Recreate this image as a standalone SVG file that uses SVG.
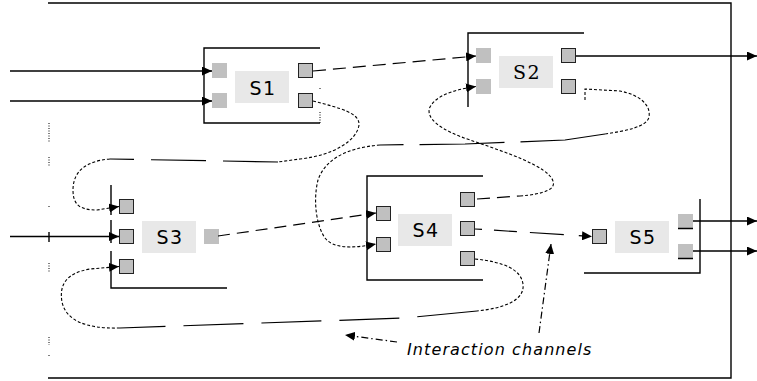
<svg xmlns="http://www.w3.org/2000/svg" width="757" height="381" viewBox="0 0 757 381">
  <defs>
    <marker id="arrow" viewBox="0 0 10 9" refX="10" refY="4.5" markerWidth="10" markerHeight="9" markerUnits="userSpaceOnUse" orient="auto">
      <path d="M0,0 L10,4.5 L0,9 z" fill="#000"/>
    </marker>
  </defs>
  <style>
    .frame{fill:none;stroke:#000;stroke-width:1.4}
    .edge{fill:none;stroke:#000;stroke-width:1.4}
    .dots{fill:none;stroke:#000;stroke-width:1;stroke-dasharray:1 1.5}
    .port{fill:#c0c0c0}
    .port.b{stroke:#222;stroke-width:1}
    .label{fill:#e8e8e8}
    .name{font-family:"DejaVu Sans",Verdana,sans-serif;font-size:19px;letter-spacing:1.5px;text-anchor:middle;fill:#000}
    .serif{font-family:"DejaVu Serif","Liberation Serif",serif}
    .wire{fill:none;stroke:#000;stroke-width:1.4}
    .dash{fill:none;stroke:#000;stroke-width:1.2;stroke-dasharray:13 7}
    .long{fill:none;stroke:#000;stroke-width:1.2;stroke-dasharray:55 17}
    .fine{fill:none;stroke:#000;stroke-width:1.1;stroke-dasharray:3 2}
    .dashdot{fill:none;stroke:#000;stroke-width:1.2;stroke-dasharray:7 3 1.5 3}
    .note{font-family:"DejaVu Sans",Verdana,sans-serif;font-size:16px;font-style:italic;letter-spacing:1.1px;fill:#000}
  </style>

  <!-- system boundary -->
  <g id="boundary">
    <path class="frame" d="M48,3 H731 V378 H48"/>
    <path class="dots" d="M49,123 V142 M49,157 V167 M49,206 V208 M49,263 V272 M49,337 V345 M49,355 V357"/>
    <path class="edge" d="M49,232 V242"/>
  </g>

  <!-- S1 -->
  <g id="s1">
    <path class="edge" d="M320,48 H204 V123 H320"/>
    <path class="dots" d="M320,88 V90 M320,112 V123"/>
    <rect class="port" x="212" y="63" width="15" height="15"/>
    <rect class="port" x="212" y="93" width="15" height="15"/>
    <rect class="port b" x="298.5" y="63.5" width="14" height="14"/>
    <rect class="port b" x="298.5" y="93.5" width="14" height="14"/>
    <rect class="label" x="235" y="71" width="54" height="32"/>
    <text class="name" x="263" y="95">S1</text>
  </g>

  <!-- S2 -->
  <g id="s2">
    <path class="edge" d="M584,33 H468 V107"/>
    <rect class="port" x="476" y="48" width="15" height="15"/>
    <rect class="port" x="476" y="79" width="15" height="15"/>
    <rect class="port b" x="561.5" y="48.5" width="14" height="14"/>
    <rect class="port b" x="561.5" y="79.5" width="14" height="14"/>
    <rect class="label" x="499" y="56" width="54" height="32"/>
    <text class="name serif" x="527" y="79">S2</text>
  </g>

  <!-- S3 -->
  <g id="s3">
    <path class="edge" d="M111,185 V215 M111,220 V243 M111,251 V288 H227"/>
    <rect class="port b" x="119.5" y="199.5" width="14" height="14"/>
    <rect class="port b" x="119.5" y="229.5" width="14" height="14"/>
    <rect class="port b" x="119.5" y="259.5" width="14" height="14"/>
    <rect class="label" x="142" y="221" width="54" height="32"/>
    <text class="name" x="170" y="244">S3</text>
    <rect class="port" x="204" y="229" width="15" height="15"/>
  </g>

  <!-- S4 -->
  <g id="s4">
    <path class="edge" d="M483,176 H367 V280 H483"/>
    <rect class="port b" x="376.5" y="206.5" width="14" height="14"/>
    <rect class="port b" x="376.5" y="237.5" width="14" height="14"/>
    <rect class="label" x="398" y="214" width="54" height="32"/>
    <text class="name" x="426" y="237">S4</text>
    <rect class="port b" x="460.5" y="192.5" width="14" height="14"/>
    <rect class="port b" x="460.5" y="221.5" width="14" height="14"/>
    <rect class="port b" x="460.5" y="251.5" width="14" height="14"/>
  </g>

  <!-- S5 -->
  <g id="s5">
    <path class="edge" d="M584,273 H700 V199"/>
    <rect class="port b" x="592.5" y="229.5" width="14" height="14"/>
    <rect class="label" x="615" y="221" width="54" height="32"/>
    <text class="name" x="643" y="244">S5</text>
    <rect class="port" x="678" y="214" width="15" height="15"/>
    <rect class="port" x="678" y="244" width="15" height="15"/>
    <path class="edge" d="M678,228.5 H693 M678,258.5 H693"/>
  </g>

  <!-- connectors -->
  <g id="connectors">
    <!-- external inputs and outputs -->
    <path class="wire" d="M10,71 H212" marker-end="url(#arrow)"/>
    <path class="wire" d="M10,101 H212" marker-end="url(#arrow)"/>
    <path class="wire" d="M10,236.5 H119" marker-end="url(#arrow)"/>
    <path class="wire" d="M576,56 H757" marker-end="url(#arrow)"/>
    <path class="wire" d="M693,221 H757" marker-end="url(#arrow)"/>
    <path class="wire" d="M693,251 H757" marker-end="url(#arrow)"/>

    <!-- S1 -> S2 -->
    <path class="dash" d="M313,71 L476,56" marker-end="url(#arrow)"/>

    <!-- S1 -> S3 -->
    <g id="c-s1-s3">
      <path class="fine" d="M313,101 C340,108 360,113 359,125 C357,140 335,155 300,159 L278,162"/>
      <path class="long" d="M278,162 L110,159"/>
      <path class="fine" d="M110,159 C85,161 73,172 73,190 C73,205 80,210 97,210 L119,206.5" marker-end="url(#arrow)"/>
    </g>

    <!-- S4 -> S2 -->
    <g id="c-s4-s2">
      <path class="dash" d="M477,199 L520,196"/>
      <path class="fine" d="M520,196 C545,194 556,189 553,181 C548,166 505,152 470,140 C440,130 425,118 430,107 C436,96 452,90 476,86.5" marker-end="url(#arrow)"/>
    </g>

    <!-- S2 -> S4 -->
    <g id="c-s2-s4">
      <path class="fine" d="M585,100 V89 L620,91 C640,95 651,105 649,117 C647,127 625,131 605,134"/>
      <path class="long" style="stroke-dasharray:85 16" d="M605,134 L565,140 L465,144 L380,145"/>
      <path class="fine" d="M380,145 C345,148 325,160 318,180 C313,200 316,225 325,238 C333,248 350,249 376,244" marker-end="url(#arrow)"/>
    </g>

    <!-- S3 -> S4 -->
    <path class="dash" style="stroke-dasharray:12 7" d="M218,236 L376,213" marker-end="url(#arrow)"/>

    <!-- S4 -> S5 -->
    <path class="dash" style="stroke-dasharray:7 12 23 13 34 15" d="M475,229 L592,236.5" marker-end="url(#arrow)"/>

    <!-- S4 -> S3 -->
    <g id="c-s4-s3">
      <path class="fine" d="M475,259 C505,262 521,270 523,284 C525,300 505,308 477,311"/>
      <path class="long" style="stroke-dasharray:60 18" d="M477,311 L404,318 L120,328"/>
      <path class="fine" d="M120,328 C85,329 66,320 62,302 C59,285 66,273 90,269 L119,266.5" marker-end="url(#arrow)"/>
    </g>

    <!-- annotation pointers -->
    <path class="dashdot" d="M539,333 L551,244" marker-end="url(#arrow)"/>
    <path class="dashdot" d="M397,342 L345,335" marker-end="url(#arrow)"/>
  </g>

  <text class="note" x="407" y="355">Interaction channels</text>
</svg>
